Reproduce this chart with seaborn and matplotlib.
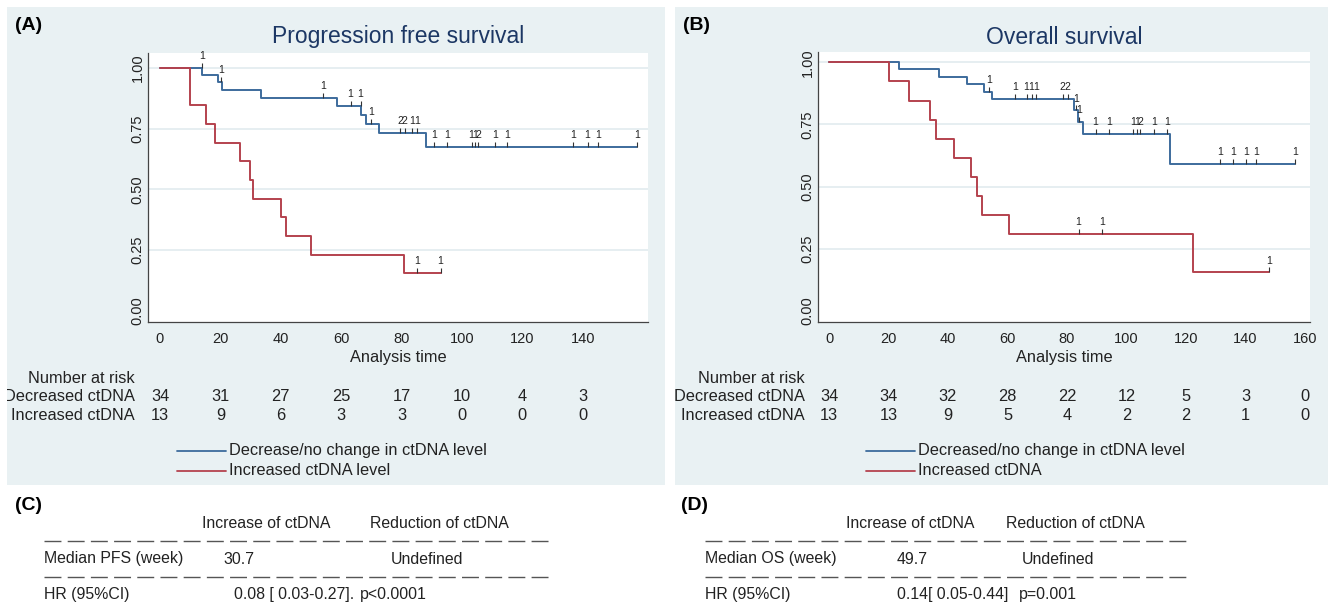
import numpy as np
import pandas as pd
import matplotlib
matplotlib.use("Agg")
import matplotlib.pyplot as plt
import matplotlib.transforms as mtransforms
from matplotlib.lines import Line2D
import seaborn as sns

W, H = 1330, 603

# ---- values ----
# (A) progression free survival: KM step points (time, survival)
pfs_dec_time = [0, 14.0, 19.2, 20.5, 33.3, 58.7, 66.6, 68.2, 72.6, 88.1, 158.1]
pfs_dec_surv = [1.0, 0.971, 0.942, 0.908, 0.876, 0.843, 0.806, 0.768, 0.731, 0.676, 0.676]
pfs_dec_cens = [13.8, 20.1, 54.1, 63.1, 66.4, 69.8, 79.5, 81.0, 83.5, 85.0, 90.7, 95.1,
                103.2, 104.3, 105.4, 110.9, 114.8, 136.9, 141.6, 145.1, 158.1]
pfs_dec_ncens = [1, 1, 1, 1, 1, 1, 2, 2, 1, 1, 1, 1, 1, 1, 2, 1, 1, 1, 1, 1, 1]

pfs_inc_time = [0, 9.9, 15.1, 18.2, 26.5, 29.8, 30.7, 40.1, 41.7, 50.0, 80.9, 92.9]
pfs_inc_surv = [1.0, 0.846, 0.769, 0.692, 0.615, 0.538, 0.462, 0.385, 0.308, 0.231, 0.154, 0.154]
pfs_inc_cens = [85.0, 92.9]
pfs_inc_ncens = [1, 1]

pfs_ticks = [0, 20, 40, 60, 80, 100, 120, 140]
pfs_risk_dec = [34, 31, 27, 25, 17, 10, 4, 3]
pfs_risk_inc = [13, 9, 6, 3, 3, 0, 0, 0]

# (B) overall survival
os_dec_time = [0, 23.6, 37.0, 46.4, 52.2, 54.8, 82.5, 83.8, 85.5, 114.8, 156.6]
os_dec_surv = [1.0, 0.971, 0.941, 0.912, 0.882, 0.852, 0.806, 0.760, 0.711, 0.592, 0.592]
os_dec_cens = [53.9, 62.6, 66.4, 68.1, 69.6, 78.6, 80.3, 83.1, 84.2, 89.6, 94.1,
               102.2, 103.6, 104.7, 109.4, 113.6, 131.6, 135.8, 140.3, 143.6, 156.6]
os_dec_ncens = [1, 1, 1, 1, 1, 2, 2, 1, 1, 1, 1, 1, 1, 2, 1, 1, 1, 1, 1, 1, 1]

os_inc_time = [0, 20.2, 26.9, 34.0, 35.9, 42.1, 47.7, 49.7, 51.6, 60.4, 122.3, 147.8]
os_inc_surv = [1.0, 0.923, 0.846, 0.769, 0.692, 0.615, 0.538, 0.462, 0.385, 0.308, 0.154, 0.154]
os_inc_cens = [83.9, 91.8, 147.8]
os_inc_ncens = [1, 1, 1]

os_ticks = [0, 20, 40, 60, 80, 100, 120, 140, 160]
os_risk_dec = [34, 34, 32, 28, 22, 12, 5, 3, 0]
os_risk_inc = [13, 13, 9, 5, 4, 2, 2, 1, 0]

# (C)/(D) summary tables
hdr = ["Increase of ctDNA", "Reduction of ctDNA"]
pfs_median = ["30.7", "Undefined"]
pfs_hr = ["0.08 [ 0.03-0.27].", "p<0.0001"]
os_median = ["49.7", "Undefined"]
os_hr = ["0.14[ 0.05-0.44]", "p=0.001"]

# ---- style ----
sns.set_style("white")
plt.rcParams['font.family'] = ['Liberation Sans', 'DejaVu Sans']

BLUE = '#3d6b9c'
RED = '#b4424e'
PANEL = '#e9f1f3'
GRID = '#e6eef1'
INK = '#222222'
TICK = [(0, 0), (0, 1)]

fig = plt.figure(figsize=(W / 100, H / 100), dpi=100)


def fx(px):
    return px / W


def fy(py):
    return 1 - py / H


def box(l, t, r, b):
    return [fx(l), fy(b), (r - l) / W, (b - t) / H]


def km_df(times, surv, name):
    return pd.DataFrame({'time': times, 'surv': surv, 'group': name})


def add_censor(ax, times, surv, cens, ncens):
    t = np.asarray(times)
    s = np.asarray(surv)
    idx = np.searchsorted(t, cens, side='right') - 1
    cs = s[idx]
    ax.plot(cens, cs, ls='none', marker=TICK, ms=7, mew=0.8, mec='#333333', zorder=4)
    for c, v, n in zip(cens, cs, ncens):
        ax.annotate(str(n), (c, v), xytext=(0, 5), textcoords='offset points',
                    ha='center', va='bottom', fontsize=7.5, color=INK, zorder=5)


def km_panel(bg, axbox, xlim, ylim, xticks, title, dec, inc, risk_ticks,
             risk_dec, risk_inc, lab, lab_x, row_right, leg_x, leg_labels):
    ax_bg = fig.add_axes(box(*bg), zorder=0)
    ax_bg.set_facecolor(PANEL)
    ax_bg.set_xticks([])
    ax_bg.set_yticks([])
    for sp in ax_bg.spines.values():
        sp.set_visible(False)

    ax = fig.add_axes(box(*axbox), zorder=1)
    ax.set_facecolor('white')
    df = pd.concat([km_df(dec[0], dec[1], 'dec'), km_df(inc[0], inc[1], 'inc')])
    sns.lineplot(data=df, x='time', y='surv', hue='group', palette={'dec': BLUE, 'inc': RED},
                 estimator=None, sort=False, drawstyle='steps-post', lw=1.4,
                 legend=False, ax=ax, zorder=3)
    add_censor(ax, dec[0], dec[1], dec[2], dec[3])
    add_censor(ax, inc[0], inc[1], inc[2], inc[3])

    ax.set_xlim(*xlim)
    ax.set_ylim(*ylim)
    ax.set_xticks(xticks)
    ax.set_xticklabels([str(x) if x in risk_ticks else '' for x in xticks])
    yt = [0, 0.25, 0.5, 0.75, 1.0]
    ax.set_yticks(yt)
    ax.set_yticklabels([f"{v:.2f}" for v in yt], rotation=90, va='center')
    ax.yaxis.grid(True, color=GRID, lw=1.4)
    ax.get_ygridlines()[0].set_visible(False)
    ax.set_axisbelow(True)
    ax.set_xlabel('')
    ax.set_ylabel('')
    for s in ['top', 'right']:
        ax.spines[s].set_visible(False)
    for s in ['left', 'bottom']:
        ax.spines[s].set_color('#444444')
        ax.spines[s].set_linewidth(0.9)
    ax.tick_params(axis='both', direction='out', length=3.6, width=0.8, color='#444444',
                   labelsize=10.5, labelcolor=INK)
    ax.tick_params(axis='x', pad=4)
    ax.tick_params(axis='y', pad=-1)

    cx = (axbox[0] + axbox[2]) / 2
    fig.text(fx(cx), fy(37), title, ha='center', va='center', fontsize=16.5, color='#1c3764')
    fig.text(fx(lab_x), fy(25), lab, ha='left', va='center', fontsize=14, fontweight='bold',
             color='black')
    fig.text(fx(cx), fy(357.5), 'Analysis time', ha='center', va='center', fontsize=11.8,
             color=INK)

    # number at risk table
    tr = mtransforms.blended_transform_factory(ax.transData, fig.transFigure)
    for row_y, vals in [(396.7, risk_dec), (416, risk_inc)]:
        for t, v in zip(risk_ticks, vals):
            fig.text(t, fy(row_y), str(v), transform=tr, ha='center', va='center',
                     fontsize=11.8, color=INK)
    for row_y, s in [(378.3, 'Number at risk'), (396.7, 'Decreased ctDNA'),
                     (416, 'Increased ctDNA')]:
        ax_bg.text(fx(row_right), fy(row_y), s, transform=fig.transFigure, ha='right',
                   va='center', fontsize=11.8, color=INK, clip_on=True)

    # legend keys
    for row_y, col, s in [(450.7, BLUE, leg_labels[0]), (470.7, RED, leg_labels[1])]:
        fig.add_artist(Line2D([fx(leg_x), fx(leg_x + 49)], [fy(row_y), fy(row_y)],
                              transform=fig.transFigure, color=col, lw=1.3))
        fig.text(fx(leg_x + 52), fy(row_y), s, ha='left', va='center', fontsize=11.8,
                 color=INK)
    return ax


km_panel((7, 7, 665, 485), (148, 52.5, 648, 321.7), (-3.97, 161.6), (-0.045, 1.064),
         pfs_ticks + [150], 'Progression free survival',
         (pfs_dec_time, pfs_dec_surv, pfs_dec_cens, pfs_dec_ncens),
         (pfs_inc_time, pfs_inc_surv, pfs_inc_cens, pfs_inc_ncens),
         pfs_ticks, pfs_risk_dec, pfs_risk_inc, '(A)', 15, 134.7, 177,
         ['Decrease/no change in ctDNA level', 'Increased ctDNA level'])

km_panel((675, 7, 1328, 485), (818, 52.3, 1310, 321.7), (-3.7, 161.7), (-0.044, 1.040),
         os_ticks, 'Overall survival',
         (os_dec_time, os_dec_surv, os_dec_cens, os_dec_ncens),
         (os_inc_time, os_inc_surv, os_inc_cens, os_inc_ncens),
         os_ticks, os_risk_dec, os_risk_inc, '(B)', 683, 805, 866,
         ['Decreased/no change in ctDNA level', 'Increased ctDNA'])


def summary_table(lab, lab_x, left, right, hdr_x, val_x, hr_x, med_label, med_vals, hr_vals):
    fs = 11.4
    fig.text(fx(lab_x), fy(505), lab, ha='left', va='center', fontsize=14,
             fontweight='bold', color='black')
    for x, s in zip(hdr_x, hdr):
        fig.text(fx(x), fy(523.3), s, ha='left', va='center', fontsize=fs, color=INK)
    for y in [541, 577]:
        fig.add_artist(Line2D([fx(left), fx(right)], [fy(y), fy(y)], transform=fig.transFigure,
                              color='#555555', lw=1.0, ls=(0, (12.2, 4.5))))
    fig.text(fx(left), fy(559), med_label, ha='left', va='center', fontsize=fs, color=INK)
    for x, s in zip(val_x, med_vals):
        fig.text(fx(x), fy(559), s, ha='left', va='center', fontsize=fs, color=INK)
    fig.text(fx(left), fy(595), 'HR (95%CI)', ha='left', va='center', fontsize=fs, color=INK)
    for x, s in zip(hr_x, hr_vals):
        fig.text(fx(x), fy(595), s, ha='left', va='center', fontsize=fs, color=INK)


summary_table('(C)', 15, 44, 553, [202, 370], [223, 391], [233.6, 360],
              'Median PFS (week)', pfs_median, pfs_hr)
summary_table('(D)', 681, 705, 1190, [846, 1006], [897, 1022], [897, 1019],
              'Median OS (week)', os_median, os_hr)

fig.savefig('out.png', dpi=100, facecolor='white')
